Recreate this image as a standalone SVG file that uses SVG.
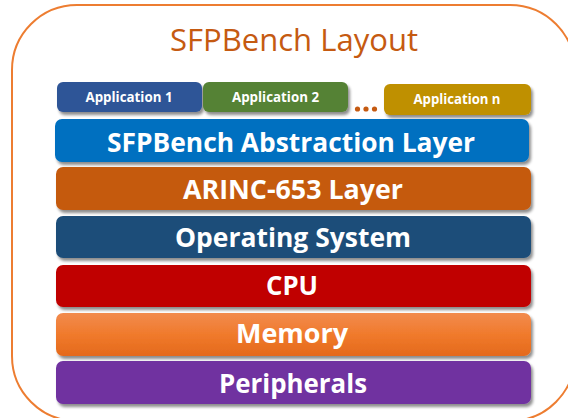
<svg xmlns="http://www.w3.org/2000/svg" width="568" height="418" viewBox="0 0 568 418">
<defs>
<filter id="sh" x="-5%" y="-20%" width="110%" height="150%">
<feGaussianBlur in="SourceAlpha" stdDeviation="1.6"/>
<feOffset dx="1.5" dy="2.5" result="b"/>
<feComponentTransfer><feFuncA type="linear" slope="0.45"/></feComponentTransfer>
<feMerge><feMergeNode/><feMergeNode in="SourceGraphic"/></feMerge>
</filter>
<linearGradient id="mem" x1="0" y1="0" x2="0" y2="1">
<stop offset="0" stop-color="#F28B4E"/>
<stop offset="0.5" stop-color="#F07A2C"/>
<stop offset="1" stop-color="#E4691B"/>
</linearGradient>
<style>
.box{filter:url(#sh);}
.lt{font-family:"Open Sans","Liberation Sans",sans-serif;font-weight:bold;fill:#FFFFFF;text-anchor:middle;font-size:27px;}
.at{font-family:"Open Sans","Liberation Sans",sans-serif;font-weight:bold;fill:#FFFFFF;text-anchor:middle;font-size:13.5px;}
</style>
</defs>
<rect x="12" y="5" width="563" height="416" rx="65" ry="65" fill="#FFFFFF" stroke="#ED7D31" stroke-width="2"/>
<text x="294" y="51" font-family="'Open Sans','Liberation Sans',sans-serif" font-size="31" fill="#C55A11" text-anchor="middle" textLength="248" lengthAdjust="spacingAndGlyphs">SFPBench Layout</text>
<g id="app1"><rect class="box" x="57" y="82" width="145" height="30" rx="6" fill="#2F5597"/><text class="at" x="129" y="102" textLength="87" lengthAdjust="spacingAndGlyphs">Application 1</text></g>
<g id="app2"><rect class="box" x="203" y="82" width="145" height="30" rx="6" fill="#548235"/><text class="at" x="275.5" y="102" textLength="87" lengthAdjust="spacingAndGlyphs">Application 2</text></g>
<g id="dots" fill="#C55A11"><circle cx="357.5" cy="109" r="2.6"/><circle cx="366" cy="109" r="2.6"/><circle cx="374.5" cy="109" r="2.6"/></g>
<g id="appn"><rect class="box" x="384" y="84" width="147" height="31" rx="6" fill="#BF9000"/><text class="at" x="457" y="104" textLength="87" lengthAdjust="spacingAndGlyphs">Application n</text></g>
<g id="abstraction"><rect class="box" x="55" y="119" width="474" height="43" rx="7" fill="#0070C0"/><text class="lt" x="291" y="152" textLength="368" lengthAdjust="spacingAndGlyphs">SFPBench Abstraction Layer</text></g>
<g id="arinc"><rect class="box" x="56" y="167" width="475" height="43" rx="7" fill="#C55A11"/><text class="lt" x="293" y="199" textLength="220" lengthAdjust="spacingAndGlyphs">ARINC-653 Layer</text></g>
<g id="os"><rect class="box" x="56" y="216" width="475" height="42" rx="7" fill="#1F4E79"/><text class="lt" x="293" y="247" textLength="236" lengthAdjust="spacingAndGlyphs">Operating System</text></g>
<g id="cpu"><rect class="box" x="56" y="265" width="475" height="42" rx="7" fill="#C00000"/><text class="lt" x="292" y="295" textLength="52" lengthAdjust="spacingAndGlyphs">CPU</text></g>
<g id="memory"><rect class="box" x="56" y="313" width="475" height="43" rx="7" fill="url(#mem)"/><text class="lt" x="292" y="343" textLength="112" lengthAdjust="spacingAndGlyphs">Memory</text></g>
<g id="peripherals"><rect class="box" x="56" y="361" width="475" height="43" rx="7" fill="#7030A0"/><text class="lt" x="293" y="393" textLength="148" lengthAdjust="spacingAndGlyphs">Peripherals</text></g>
<g id="connectors"/>
</svg>
